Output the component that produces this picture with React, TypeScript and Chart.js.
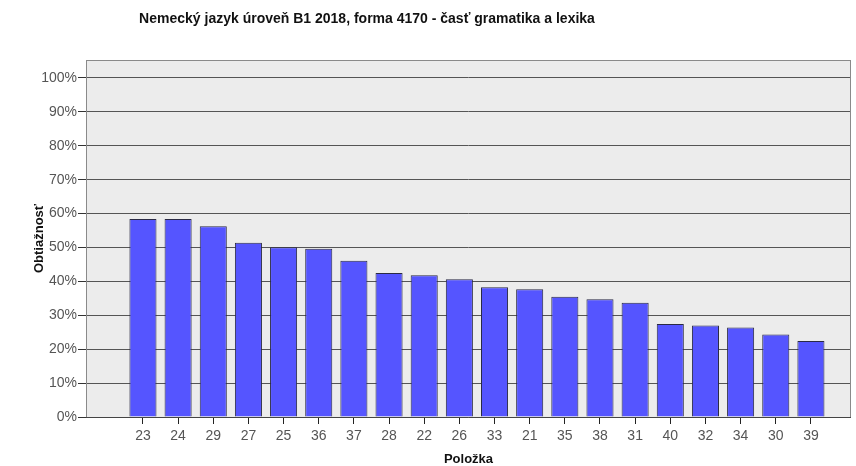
import React, { useEffect, useRef } from "react";
import { Chart, registerables } from "chart.js";

Chart.register(...registerables);

const TITLE = "Nemecký jazyk úroveň B1 2018, forma 4170 - časť gramatika a lexika";
const X_TITLE = "Položka";
const Y_TITLE = "Obtiažnosť";
const ITEMS = ["23", "24", "29", "27", "25", "36", "37", "28", "22", "26", "33", "21", "35", "38", "31", "40", "32", "34", "30", "39"];
const DIFFICULTY = [58.4, 58.4, 56.3, 51.4, 50.1, 49.6, 46.1, 42.5, 41.8, 40.6, 38.3, 37.7, 35.5, 34.7, 33.7, 27.4, 27.0, 26.4, 24.3, 22.4];
const Y_TICK_MAX = 100;

const FONT = "'Liberation Sans', Arial, sans-serif";

export default function App() {
  const ref = useRef<HTMLCanvasElement | null>(null);

  useEffect(() => {
    document.body.style.margin = "0";
    const canvas = ref.current;
    if (!canvas) return;

    const bgPlugin = {
      id: "plotBg",
      beforeDraw(chart: any) {
        const { ctx, chartArea } = chart;
        ctx.save();
        ctx.fillStyle = "#ececec";
        ctx.fillRect(chartArea.left, chartArea.top, chartArea.right - chartArea.left, chartArea.bottom - chartArea.top);
        ctx.restore();
      },
      afterDraw(chart: any) {
        const { ctx, chartArea } = chart;
        ctx.save();
        ctx.strokeStyle = "#8a8a8a";
        ctx.lineWidth = 1;
        ctx.strokeRect(Math.round(chartArea.left) + 0.5, Math.round(chartArea.top) + 0.5, chartArea.right - chartArea.left - 1, chartArea.bottom - chartArea.top);
        const base = Math.round(chartArea.bottom) + 0.5;
        ctx.strokeStyle = "#444";
        ctx.beginPath();
        ctx.moveTo(chartArea.left, base);
        ctx.lineTo(chartArea.right, base);
        ctx.stroke();
        ctx.fillStyle = "#111";
        ctx.font = `bold 14px ${FONT}`;
        ctx.textAlign = "center";
        ctx.textBaseline = "middle";
        ctx.fillText(TITLE, 367, 19);
        ctx.restore();
      },
    };

    const chart = new Chart(canvas, {
      type: "bar",
      data: {
        datasets: [
          {
            data: DIFFICULTY.map((v, i) => ({ x: i, y: v })),
            backgroundColor: "#5555ff",
            borderColor: "#2a2a44",
            borderWidth: 1,
            barPercentage: 0.77,
            categoryPercentage: 1,
          },
        ],
      },
      options: {
        animation: false,
        responsive: false,
        layout: { padding: { top: 60, right: 5, left: 0, bottom: 0 } },
        plugins: { legend: { display: false }, tooltip: { enabled: false }, title: { display: false } },
        scales: {
          x: {
            type: "linear",
            offset: false,
            min: -1.62,
            max: 20.14,
            afterFit(scale: any) {
              scale.height = 49;
            },
            afterBuildTicks(scale: any) {
              scale.ticks = ITEMS.map((_, i) => ({ value: i }));
            },
            ticks: {
              autoSkip: false,
              maxRotation: 0,
              color: "#555",
              font: { family: FONT, size: 14 },
              padding: 4,
              callback: (v: any) => ITEMS[v] ?? "",
            },
            grid: {
              display: true,
              offset: false,
              drawOnChartArea: false,
              drawTicks: true,
              tickLength: 7,
              tickWidth: 1,
              tickColor: "#222",
            },
            border: { display: false },
            title: {
              display: true,
              text: X_TITLE,
              color: "#111",
              font: { family: FONT, size: 13, weight: "bold", lineHeight: 1 },
              padding: { top: 0, bottom: 0 },
            },
          },
          y: {
            min: 0,
            max: 105.3,
            afterFit(scale: any) {
              scale.width = 86;
            },
            afterBuildTicks(scale: any) {
              scale.ticks = scale.ticks.filter((t: any) => t.value <= Y_TICK_MAX && t.value % 10 === 0);
            },
            ticks: {
              stepSize: 10,
              color: "#555",
              font: { family: FONT, size: 14 },
              padding: 1,
              callback: (v: any) => `${v}%`,
            },
            grid: { color: "#555", lineWidth: 1, tickLength: 8, tickColor: "#333" },
            border: { display: false },
            title: {
              display: true,
              text: Y_TITLE,
              color: "#111",
              font: { family: FONT, size: 13, weight: "bold" },
              padding: { top: 32, bottom: 0 },
            },
          },
        },
      },
      plugins: [bgPlugin],
    });
    return () => chart.destroy();
  }, []);

  return (
    <div style={{ width: 856, height: 466, background: "#fff" }}>
      <canvas ref={ref} width={856} height={466} />
    </div>
  );
}
